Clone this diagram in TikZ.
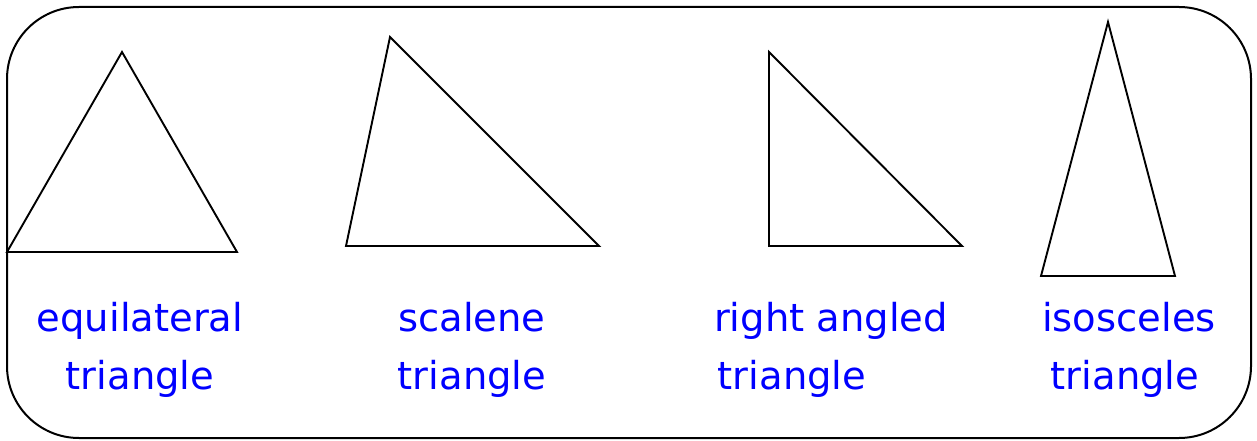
\documentclass[tikz,border=0pt]{standalone}
\usepackage{fontspec}
\setmainfont{DejaVu Sans}
\begin{document}
\begin{tikzpicture}[x=1pt,y=-1pt,
  shape line/.style={draw=black,line width=1.9pt,line join=miter},
  lbl/.style={text=blue,font=\fontsize{38.5}{42}\selectfont,inner sep=0pt}]
\useasboundingbox (0,0) rectangle (1257,441);
\draw[line width=2pt,rounded corners=72pt] (7,7) rectangle (1251,438);
% triangles
\coordinate (e1) at (7,252); \coordinate (e2) at (237,252); \coordinate (e3) at (122,52);
\draw[shape line] (e1) -- (e2) -- (e3) -- cycle;
\coordinate (s1) at (346,246); \coordinate (s2) at (599,246); \coordinate (s3) at (390,37);
\draw[shape line] (s1) -- (s2) -- (s3) -- cycle;
\coordinate (r1) at (769,246); \coordinate (r2) at (962,246); \coordinate (r3) at (769,52);
\draw[shape line] (r1) -- (r2) -- (r3) -- cycle;
\coordinate (i1) at (1041,276); \coordinate (i2) at (1175,276); \coordinate (i3) at (1108,22);
\draw[shape line] (i1) -- (i2) -- (i3) -- cycle;
% labels
\node[lbl,anchor=base] (eq1) at (140,331) {equilateral};
\node[lbl,anchor=base] (eq2) at (140,389) {triangle};
\node[lbl,anchor=base] (sc1) at (472,331) {scalene};
\node[lbl,anchor=base] (sc2) at (472,389) {triangle};
\node[lbl,anchor=base] (ra1) at (831,331) {right angled};
\node[lbl,anchor=base] (ra2) at (792,389) {triangle};
\node[lbl,anchor=base] (is1) at (1129,331) {isosceles};
\node[lbl,anchor=base] (is2) at (1125,389) {triangle};
\end{tikzpicture}
\end{document}
